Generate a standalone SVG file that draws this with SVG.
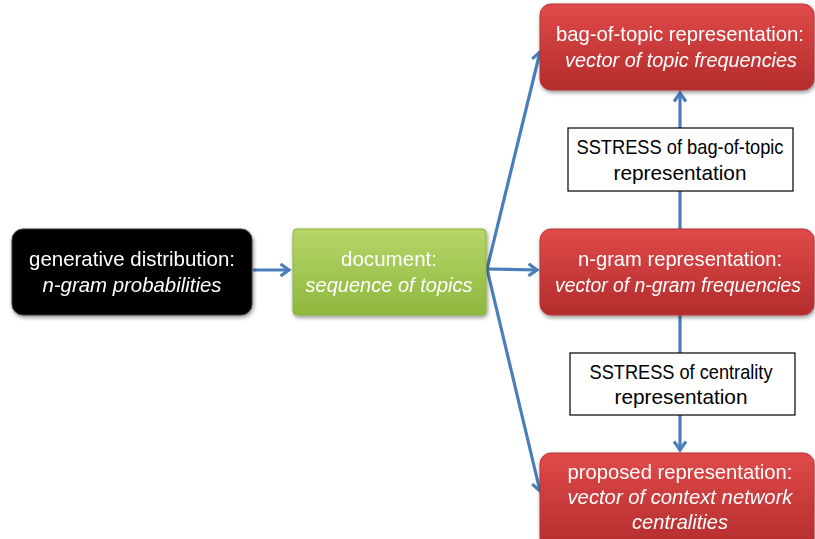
<svg xmlns="http://www.w3.org/2000/svg" width="815" height="539" viewBox="0 0 815 539">
<defs>
<linearGradient id="gRed" x1="0" y1="0" x2="0" y2="1">
<stop offset="0" stop-color="#e04a4a"/>
<stop offset="1" stop-color="#b32c2c"/>
</linearGradient>
<linearGradient id="gGreen" x1="0" y1="0" x2="0" y2="1">
<stop offset="0" stop-color="#b5d66a"/>
<stop offset="1" stop-color="#8fb83e"/>
</linearGradient>
<filter id="sh" x="-10%" y="-10%" width="120%" height="130%">
<feGaussianBlur in="SourceAlpha" stdDeviation="2"/>
<feOffset dx="1" dy="2" result="b"/>
<feComponentTransfer><feFuncA type="linear" slope="0.45"/></feComponentTransfer>
<feMerge><feMergeNode/><feMergeNode in="SourceGraphic"/></feMerge>
</filter>
<marker id="ah" markerWidth="14" markerHeight="14" refX="10" refY="7" orient="auto" markerUnits="userSpaceOnUse">
<path d="M1.5,1 L10,7 L1.5,13" fill="none" stroke="#4a7ebb" stroke-width="3.2"/>
</marker>
</defs>
<style>
.t{font-family:"Liberation Sans","Open Sans",sans-serif;font-size:21px;text-anchor:middle}
.w{fill:#ffffff}
.k{fill:#000000}
.i{font-style:italic}
.c{fill:none;stroke:#4a7ebb;stroke-width:3.2}
.lbl{fill:#ffffff;stroke:#000000;stroke-width:1.2}
</style>
<rect width="815" height="539" fill="#ffffff"/>
<g id="connectors">
<line class="c" x1="253" y1="270" x2="289" y2="270" marker-end="url(#ah)"/>
<line class="c" x1="487" y1="269" x2="537" y2="270" marker-end="url(#ah)"/>
<line class="c" x1="487" y1="269" x2="540" y2="52" marker-end="url(#ah)"/>
<line class="c" x1="487" y1="269" x2="540" y2="491" marker-end="url(#ah)"/>
<line class="c" x1="680" y1="229" x2="680" y2="191"/>
<line class="c" x1="680" y1="128" x2="680" y2="93" marker-end="url(#ah)"/>
<line class="c" x1="680" y1="315" x2="680" y2="353"/>
<line class="c" x1="680" y1="415" x2="680" y2="450" marker-end="url(#ah)"/>
</g>
<g id="n-generative" filter="url(#sh)">
<rect x="12" y="229" width="240" height="86" rx="11" fill="#000000" stroke="#3a3a3a" stroke-width="1"/>
<text class="t w" x="132" y="266" textLength="206" lengthAdjust="spacingAndGlyphs">generative distribution:</text>
<text class="t w i" x="132" y="292" textLength="179" lengthAdjust="spacingAndGlyphs">n-gram probabilities</text>
</g>
<g id="n-document" filter="url(#sh)">
<rect x="293" y="229" width="193" height="86" rx="4" fill="url(#gGreen)" stroke="#8db33a" stroke-width="1"/>
<text class="t w" x="389" y="266" textLength="96" lengthAdjust="spacingAndGlyphs">document:</text>
<text class="t w i" x="389" y="292" textLength="167" lengthAdjust="spacingAndGlyphs">sequence of topics</text>
</g>
<g id="n-bagoftopic" filter="url(#sh)">
<rect x="540" y="4" width="274" height="86" rx="11" fill="url(#gRed)" stroke="#b83434" stroke-width="1"/>
<text class="t w" x="680" y="41" textLength="248" lengthAdjust="spacingAndGlyphs">bag-of-topic representation:</text>
<text class="t w i" x="681" y="67" textLength="232" lengthAdjust="spacingAndGlyphs">vector of topic frequencies</text>
</g>
<g id="n-ngram" filter="url(#sh)">
<rect x="540" y="229" width="274" height="86" rx="11" fill="url(#gRed)" stroke="#b83434" stroke-width="1"/>
<text class="t w" x="680" y="266" textLength="204" lengthAdjust="spacingAndGlyphs">n-gram representation:</text>
<text class="t w i" x="678" y="292" style="font-size:20px" textLength="246" lengthAdjust="spacingAndGlyphs">vector of n-gram frequencies</text>
</g>
<g id="n-proposed" filter="url(#sh)">
<rect x="540" y="453" width="274" height="96" rx="11" fill="url(#gRed)" stroke="#b83434" stroke-width="1"/>
<text class="t w" x="680" y="479" textLength="225" lengthAdjust="spacingAndGlyphs">proposed representation:</text>
<text class="t w i" x="680" y="504" textLength="225" lengthAdjust="spacingAndGlyphs">vector of context network</text>
<text class="t w i" x="680" y="529" textLength="96" lengthAdjust="spacingAndGlyphs">centralities</text>
</g>
<g id="l-sstress-bag">
<rect class="lbl" x="568" y="128" width="225" height="63"/>
<text class="t k" x="680" y="154" textLength="207" lengthAdjust="spacingAndGlyphs">SSTRESS of bag-of-topic</text>
<text class="t k" x="680" y="180" textLength="133" lengthAdjust="spacingAndGlyphs">representation</text>
</g>
<g id="l-sstress-centrality">
<rect class="lbl" x="570" y="353" width="225" height="62"/>
<text class="t k" x="681" y="379" textLength="183" lengthAdjust="spacingAndGlyphs">SSTRESS of centrality</text>
<text class="t k" x="681" y="404" textLength="133" lengthAdjust="spacingAndGlyphs">representation</text>
</g>
</svg>
